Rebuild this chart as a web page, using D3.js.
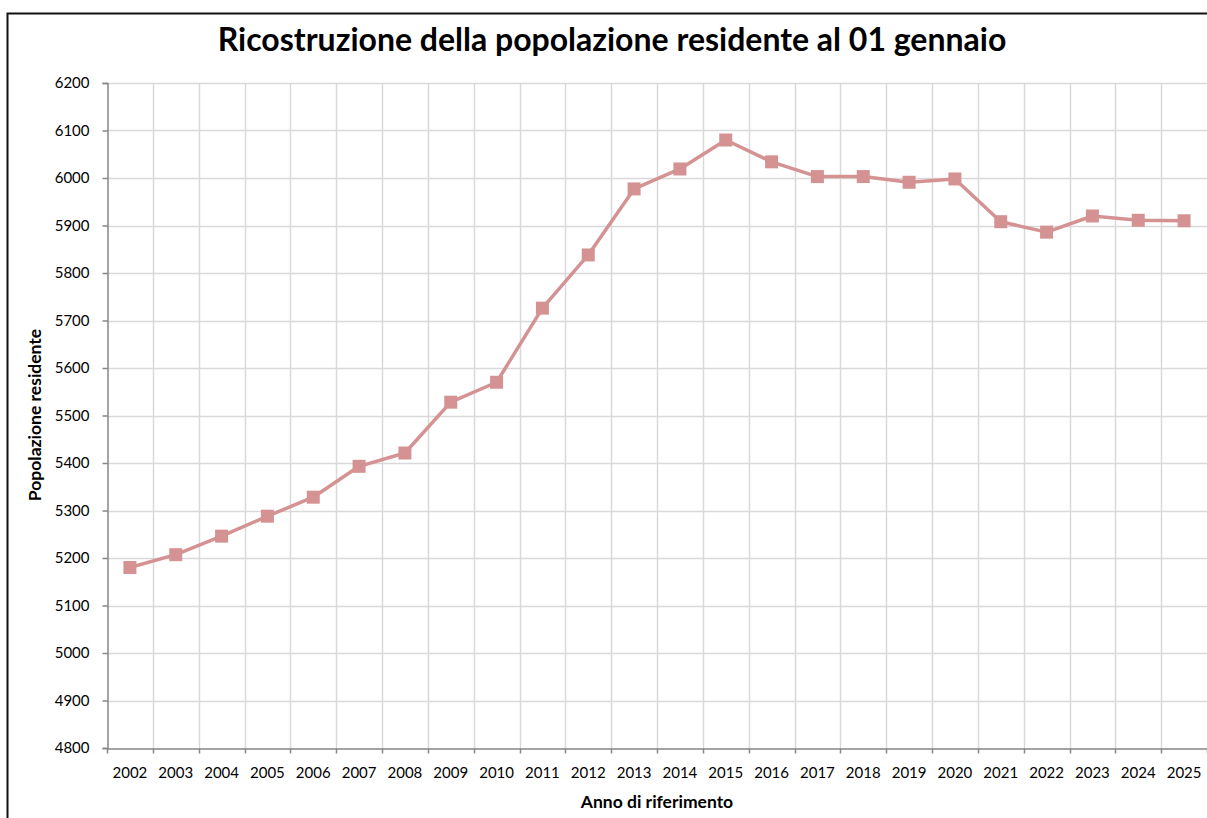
<!DOCTYPE html>
<html>
<head>
<meta charset="utf-8">
<script src="https://cdn.jsdelivr.net/npm/d3@7"></script>
<style>
	body { margin: 0; background: #fff; }
	text { font-family: Lato, "Open Sans", sans-serif; fill: #000; }
</style>
</head>
<body>
<div id="chart"></div>
<script>
'use strict'

var years = ['2002', '2003', '2004', '2005', '2006', '2007', '2008', '2009', '2010', '2011', '2012', '2013',
	'2014', '2015', '2016', '2017', '2018', '2019', '2020', '2021', '2022', '2023', '2024', '2025'];
var population = [5180, 5207, 5246, 5288, 5328, 5393, 5421, 5528, 5570, 5726, 5838, 5977,
	6019, 6080, 6034, 6003, 6003, 5991, 5998, 5908, 5886, 5920, 5911, 5910];
var yTicks = [4800, 4900, 5000, 5100, 5200, 5300, 5400, 5500, 5600, 5700, 5800, 5900, 6000, 6100, 6200];

var dimensions = { width: 1207, height: 818 };
var padding = { top: 83, right: 0, bottom: 70, left: 107 };

var svg = d3.select('#chart').append('svg')
	.attr('width', dimensions.width)
	.attr('height', dimensions.height);

// chart frame
svg.append('rect')
	.attr('x', 7.5).attr('y', 13.5)
	.attr('width', 1220).attr('height', 830)
	.attr('fill', '#fff')
	.attr('stroke', '#111')
	.attr('stroke-width', 2);

var x = d3.scaleBand()
	.domain(years)
	.range([padding.left, dimensions.width - padding.right]);

var y = d3.scaleLinear()
	.domain([4800, 6200])
	.range([dimensions.height - padding.bottom, padding.top]);

var bottom = y(4800);

// horizontal gridlines
svg.append('g').selectAll('line')
	.data(yTicks.slice(1))
	.enter().append('line')
	.attr('x1', padding.left).attr('x2', dimensions.width)
	.attr('y1', function(d) { return Math.round(y(d)) + 0.5; })
	.attr('y2', function(d) { return Math.round(y(d)) + 0.5; })
	.attr('stroke', '#d9d9d9')
	.attr('stroke-width', 1.5);

// vertical gridlines at category boundaries
svg.append('g').selectAll('line')
	.data(years.slice(1))
	.enter().append('line')
	.attr('x1', function(d) { return Math.round(x(d)) + 0.5; })
	.attr('x2', function(d) { return Math.round(x(d)) + 0.5; })
	.attr('y1', padding.top).attr('y2', bottom)
	.attr('stroke', '#d9d9d9')
	.attr('stroke-width', 1.5);

var yAxis = d3.axisLeft(y)
	.tickValues(yTicks)
	.tickSize(5)
	.tickPadding(13)
	.tickFormat(d3.format('d'));

var gy = svg.append('g')
	.attr('transform', 'translate(' + (padding.left + 0.5) + ',0)')
	.call(yAxis);

var xAxis = d3.axisBottom(x)
	.tickSize(0)
	.tickPadding(19);

var gx = svg.append('g')
	.attr('transform', 'translate(0,' + (Math.round(bottom) + 0.5) + ')')
	.call(xAxis);

// category boundary tick marks
gx.selectAll('.bound')
	.data(years.concat(['end']))
	.enter().append('line')
	.attr('class', 'bound')
	.attr('x1', function(d, i) { return Math.round(padding.left + i * x.step()) + 0.5; })
	.attr('x2', function(d, i) { return Math.round(padding.left + i * x.step()) + 0.5; })
	.attr('y1', 0).attr('y2', 5)
	.attr('stroke', '#868686')
	.attr('stroke-width', 1.5);

[gx, gy].forEach(function(g) {
	g.select('.domain').attr('stroke', '#868686').attr('stroke-width', 1.5);
	g.selectAll('.tick line').attr('stroke', '#868686').attr('stroke-width', 1.5);
	g.selectAll('.tick text')
		.style('font-family', 'Lato, "Open Sans", sans-serif')
		.style('font-size', '15px')
		.attr('fill', '#000');
});

var line = d3.line()
	.x(function(d, i) { return x(years[i]) + x.bandwidth() / 2; })
	.y(function(d) { return y(d); });

svg.append('path')
	.datum(population)
	.attr('d', line)
	.attr('fill', 'none')
	.attr('stroke', '#d49392')
	.attr('stroke-width', 3.5)
	.attr('stroke-linejoin', 'round');

var size = 13;
svg.append('g').selectAll('rect')
	.data(population)
	.enter().append('rect')
	.attr('x', function(d, i) { return x(years[i]) + x.bandwidth() / 2 - size / 2; })
	.attr('y', function(d) { return y(d) - size / 2; })
	.attr('width', size).attr('height', size)
	.attr('fill', '#d49392');

svg.append('text')
	.attr('x', 612).attr('y', 51)
	.attr('text-anchor', 'middle')
	.style('font-size', '32px')
	.style('font-weight', 'bold')
	.text('Ricostruzione della popolazione residente al 01 gennaio');

svg.append('text')
	.attr('transform', 'translate(41,415) rotate(-90)')
	.attr('text-anchor', 'middle')
	.style('font-size', '17.5px')
	.style('font-weight', 'bold')
	.text('Popolazione residente');

svg.append('text')
	.attr('x', 657).attr('y', 808)
	.attr('text-anchor', 'middle')
	.style('font-size', '17.5px')
	.style('font-weight', 'bold')
	.text('Anno di riferimento');
</script>
</body>
</html>
